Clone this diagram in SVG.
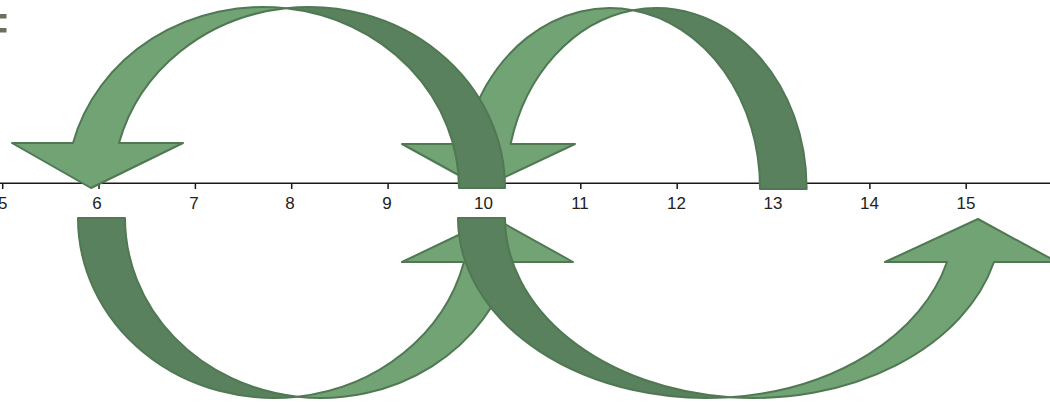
<svg xmlns="http://www.w3.org/2000/svg" width="1050" height="402" viewBox="0 0 1050 402">
<style>
.light{fill:#71a374;stroke:#4f7853;stroke-width:2;stroke-linejoin:round}
.dark{fill:#5a815d;stroke:#4f7853;stroke-width:2;stroke-linejoin:round}
.axis{stroke:#1a1a1a;stroke-width:1.5;fill:none}
.lbl{font-family:"Liberation Sans",Arial,sans-serif;font-size:17px;fill:#222;text-anchor:middle}
</style>
<rect x="0" y="14" width="6.5" height="4.5" fill="#6b6f5d"/>
<rect x="0" y="28" width="6.5" height="4.5" fill="#6b6f5d"/>
<g id="axis">
<line class="axis" x1="0" y1="183.3" x2="1050" y2="183.3"/>
<path class="axis" d="M2.7,183 V189 M99,183 V189 M195.4,183 V189 M291.7,183 V189 M388.1,183 V189 M484.4,183 V189 M580.8,183 V189 M677.2,183 V189 M773.5,183 V189 M869.9,183 V189 M966.2,183 V189"/>
<text class="lbl" x="2.7" y="209">5</text>
<text class="lbl" x="97" y="209">6</text>
<text class="lbl" x="194" y="209">7</text>
<text class="lbl" x="290" y="209">8</text>
<text class="lbl" x="387" y="209">9</text>
<text class="lbl" x="483.5" y="209">10</text>
<text class="lbl" x="580" y="209">11</text>
<text class="lbl" x="676.5" y="209">12</text>
<text class="lbl" x="773" y="209">13</text>
<text class="lbl" x="869.5" y="209">14</text>
<text class="lbl" x="966" y="209">15</text>
</g>
<g id="connectors">
<g id="arrow-13-to-10">
<path class="light" d="M402,144 L464,144 A150.3 180 0 0 1 633,10.2 A150.3 180 0 0 0 510.6,144 L575,144 L482,188 Z"/>
<path class="dark" d="M760,189 L760,188 A150.3 180 0 0 0 633,10.2 A150.3 180 0 0 1 806.6,188 L806.6,189 Z"/>
</g>
<g id="arrow-6-to-10">
<path class="light" d="M402,262 L464,262 A196 180 0 0 1 297.5,396.7 A196 180 0 0 0 511,262 L573,262 L494,218 Z"/>
<path class="dark" d="M78,218 L125,218 A196 180 0 0 0 297.5,396.7 A196 180 0 0 1 78,218 Z"/>
</g>
<g id="arrow-10-to-6">
<path class="light" d="M12,143 L73,143 A196 181 0 0 1 286,8.25 A196 181 0 0 0 119,143 L183,143 L91,188 Z"/>
<path class="dark" d="M459,188 A196 181 0 0 0 286,8.25 A196 181 0 0 1 505,188 Z"/>
</g>
<g id="arrow-10-to-15">
<path class="light" d="M885,262 L947,262 A248.3 180 0 0 1 729.8,397.2 A248.3 180 0 0 0 994,262 L1057,262 L978,219 Z"/>
<path class="dark" d="M458,218 L505,218 A248.3 180 0 0 0 729.8,397.2 A248.3 180 0 0 1 458,218 Z"/>
</g>
</g>
</svg>
